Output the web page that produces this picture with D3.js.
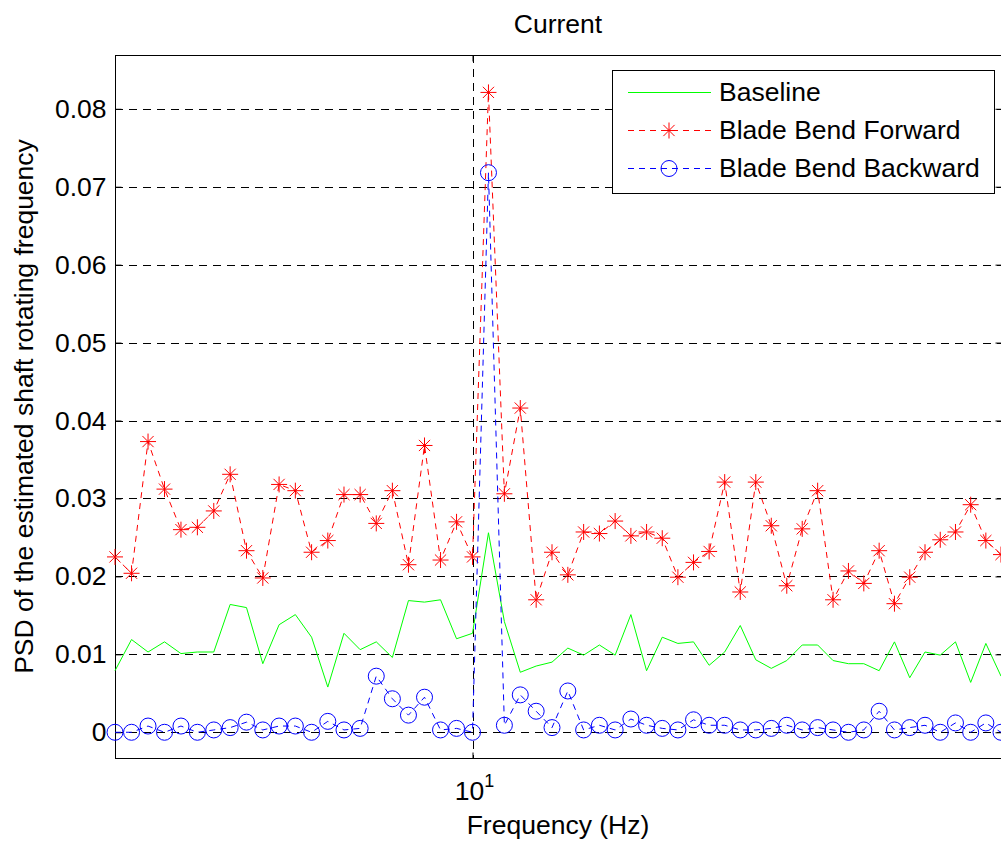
<!DOCTYPE html>
<html>
<head>
<meta charset="utf-8">
<script src="https://cdn.jsdelivr.net/npm/d3@7"></script>
<style>
  html, body { margin: 0; padding: 0; background: #fff; }
  svg { display: block; }
  text { font-family: "Liberation Sans", Arial, Helvetica, sans-serif; fill: #000; }
</style>
</head>
<body>
<svg id="chart" width="1001" height="841"></svg>
<script>
// ─── Data ─────────────────────────────────────────

// frequency bins (Hz), one per point of every series
const freqs = [
  9.648, 9.664, 9.680, 9.696, 9.712, 9.728, 9.744, 9.760, 9.776, 9.792,
  9.808, 9.824, 9.840, 9.856, 9.872, 9.888, 9.904, 9.920, 9.936, 9.952,
  9.968, 9.984, 10.000, 10.016, 10.032, 10.048, 10.064, 10.080, 10.096, 10.112,
  10.128, 10.144, 10.160, 10.176, 10.192, 10.208, 10.224, 10.240, 10.256, 10.272,
  10.288, 10.304, 10.320, 10.336, 10.352, 10.368, 10.384, 10.400, 10.416, 10.432,
  10.448, 10.464, 10.480, 10.496, 10.512, 10.528, 10.544
];

const baseline = [
  0.0079, 0.0119, 0.0103, 0.0116, 0.0101, 0.0103, 0.0103, 0.0164, 0.0160, 0.0088,
  0.0138, 0.0151, 0.0122, 0.0058, 0.0127, 0.0106, 0.0116, 0.0096, 0.0169, 0.0167,
  0.0170, 0.0120, 0.0127, 0.0256, 0.0142, 0.0077, 0.0085, 0.0090, 0.0108, 0.0099,
  0.0112, 0.0099, 0.0151, 0.0079, 0.0122, 0.0114, 0.0116, 0.0086, 0.0103, 0.0137,
  0.0093, 0.0082, 0.0092, 0.0112, 0.0112, 0.0092, 0.0088, 0.0088, 0.0079, 0.0116,
  0.0070, 0.0103, 0.0099, 0.0116, 0.0064, 0.0114, 0.0072
];

const bendForward = [
  0.0225, 0.0204, 0.0373, 0.0312, 0.0260, 0.0263, 0.0284, 0.0331, 0.0233, 0.0198,
  0.0318, 0.0310, 0.0231, 0.0246, 0.0305, 0.0305, 0.0268, 0.0310, 0.0215, 0.0368,
  0.0221, 0.0270, 0.0225, 0.0821, 0.0306, 0.0416, 0.0170, 0.0231, 0.0202, 0.0257,
  0.0255, 0.0271, 0.0252, 0.0257, 0.0249, 0.0199, 0.0218, 0.0232, 0.0321, 0.0180,
  0.0321, 0.0265, 0.0188, 0.0261, 0.0310, 0.0170, 0.0207, 0.0191, 0.0233, 0.0165,
  0.0199, 0.0231, 0.0247, 0.0257, 0.0292, 0.0246, 0.0228
];

const bendBackward = [
  0.0000, 0.0000, 0.0008, 0.0000, 0.0008, 0.0000, 0.0003, 0.0006, 0.0013, 0.0003,
  0.0008, 0.0008, 0.0000, 0.0014, 0.0003, 0.0005, 0.0072, 0.0043, 0.0022, 0.0045,
  0.0003, 0.0005, 0.0000, 0.0718, 0.0009, 0.0048, 0.0027, 0.0006, 0.0053, 0.0003,
  0.0009, 0.0003, 0.0017, 0.0009, 0.0005, 0.0003, 0.0016, 0.0009, 0.0009, 0.0003,
  0.0003, 0.0005, 0.0009, 0.0003, 0.0006, 0.0003, 0.0000, 0.0003, 0.0027, 0.0003,
  0.0006, 0.0009, 0.0000, 0.0012, 0.0000, 0.0012, 0.0000
];

const seriesNames = ['Baseline', 'Blade Bend Forward', 'Blade Bend Backward'];
const yTicks = [0, 0.01, 0.02, 0.03, 0.04, 0.05, 0.06, 0.07, 0.08];
const xTicks = [10];

// ─── Layout ───────────────────────────────────────

const W = 1001, H = 841;
const box = { left: 115, top: 55, right: 1001, bottom: 758 };
const FONT = '26.5px';

const svg = d3.select('#chart');

const x = d3.scaleLog()
  .domain([freqs[0], freqs[freqs.length - 1]])
  .range([box.left, box.right]);

const y = d3.scaleLinear()
  .domain([-0.0033, 0.0869])
  .range([box.bottom, box.top]);

const series = [
  { name: seriesNames[0], values: baseline, color: '#00ff00', dash: null, marker: null },
  { name: seriesNames[1], values: bendForward, color: '#ff0000', dash: '6,5', marker: 'star' },
  { name: seriesNames[2], values: bendBackward, color: '#0000ff', dash: '6,5', marker: 'circle' }
];

// ─── Gridlines ────────────────────────────────────

const grid = svg.append('g').attr('class', 'gridlines')
  .attr('stroke', '#000')
  .attr('stroke-width', 1)
  .attr('stroke-dasharray', '8,6');

yTicks.forEach(function (v) {
  const yy = Math.round(y(v)) + 0.5;
  grid.append('line')
    .attr('x1', box.left).attr('x2', box.right)
    .attr('y1', yy).attr('y2', yy);
});

xTicks.forEach(function (v) {
  const xx = Math.round(x(v)) + 0.5;
  grid.append('line')
    .attr('x1', xx).attr('x2', xx)
    .attr('y1', box.top).attr('y2', box.bottom);
});

// ─── Axes (ticks point inward, box all round) ─────

function styleAxis(g) {
  g.select('.domain').remove();
  g.selectAll('.tick line').attr('stroke', '#000');
  g.selectAll('.tick text')
    .style('font-family', '"Liberation Sans", Arial, sans-serif')
    .style('font-size', FONT)
    .attr('fill', '#000');
}

svg.append('g')
  .attr('transform', 'translate(' + (box.left + 0.5) + ',0)')
  .call(d3.axisLeft(y).tickValues(yTicks).tickSizeInner(-6).tickSizeOuter(0)
    .tickPadding(9).tickFormat(function (d) { return d === 0 ? '0' : d3.format('.2f')(d); }))
  .call(styleAxis);

svg.append('g')
  .attr('transform', 'translate(' + (box.right + 0.5) + ',0)')
  .call(d3.axisRight(y).tickValues(yTicks).tickSizeInner(-6).tickSizeOuter(0).tickFormat(''))
  .call(styleAxis);

svg.append('g')
  .attr('transform', 'translate(0,' + (box.bottom + 0.5) + ')')
  .call(d3.axisBottom(x).tickValues(xTicks).tickSizeInner(-6).tickSizeOuter(0).tickFormat(''))
  .call(styleAxis);

svg.append('g')
  .attr('transform', 'translate(0,' + (box.top + 0.5) + ')')
  .call(d3.axisTop(x).tickValues(xTicks).tickSizeInner(-6).tickSizeOuter(0).tickFormat(''))
  .call(styleAxis);

svg.append('rect')
  .attr('x', box.left + 0.5).attr('y', box.top + 0.5)
  .attr('width', box.right - box.left).attr('height', box.bottom - box.top)
  .attr('fill', 'none').attr('stroke', '#000').attr('stroke-width', 1);

// x tick labels as 10^k
xTicks.forEach(function (v) {
  const t = svg.append('text')
    .attr('x', x(v) + 2)
    .attr('y', 800)
    .attr('text-anchor', 'middle')
    .style('font-size', FONT);
  t.append('tspan').text('10');
  t.append('tspan').attr('dy', -13).style('font-size', '18px').text(Math.round(Math.log10(v)));
});

// ─── Series ───────────────────────────────────────

function starPath(r) {
  const d = r * 0.7;
  return 'M' + (-r) + ',0L' + r + ',0M0,' + (-r) + 'L0,' + r +
    'M' + (-d) + ',' + (-d) + 'L' + d + ',' + d +
    'M' + (-d) + ',' + d + 'L' + d + ',' + (-d);
}

function drawMarker(g, type, cx, cy, color) {
  if (type === 'star') {
    g.append('path')
      .attr('d', starPath(8))
      .attr('transform', 'translate(' + cx + ',' + cy + ')')
      .attr('fill', 'none').attr('stroke', color).attr('stroke-width', 1);
  } else if (type === 'circle') {
    g.append('circle')
      .attr('cx', cx).attr('cy', cy).attr('r', 8)
      .attr('fill', 'none').attr('stroke', color).attr('stroke-width', 1);
  }
}

const line = d3.line()
  .x(function (d) { return x(d[0]); })
  .y(function (d) { return y(d[1]); });

series.forEach(function (s) {
  const pts = freqs.map(function (f, i) { return [f, s.values[i]]; });
  const g = svg.append('g').attr('class', 'series');
  g.append('path')
    .attr('d', line(pts))
    .attr('fill', 'none')
    .attr('stroke', s.color)
    .attr('stroke-width', 1)
    .attr('stroke-dasharray', s.dash);
  if (s.marker) {
    pts.forEach(function (p) {
      drawMarker(g, s.marker, x(p[0]), y(p[1]), s.color);
    });
  }
});

// ─── Legend ───────────────────────────────────────

const legend = svg.append('g').attr('class', 'legend');
legend.append('rect')
  .attr('x', 612.5).attr('y', 70.5)
  .attr('width', 382).attr('height', 123)
  .attr('fill', '#fff').attr('stroke', '#000').attr('stroke-width', 1);

series.forEach(function (s, i) {
  const ly = 92 + i * 38;
  legend.append('line')
    .attr('x1', 628).attr('x2', 711)
    .attr('y1', ly + 0.5).attr('y2', ly + 0.5)
    .attr('stroke', s.color).attr('stroke-width', 1)
    .attr('stroke-dasharray', s.dash);
  if (s.marker) drawMarker(legend, s.marker, 669, ly + 0.5, s.color);
  legend.append('text')
    .attr('x', 719).attr('y', ly)
    .attr('dy', '0.35em')
    .style('font-size', FONT)
    .text(s.name);
});

// ─── Titles ───────────────────────────────────────

svg.append('text')
  .attr('x', (box.left + box.right) / 2).attr('y', 33)
  .attr('text-anchor', 'middle')
  .style('font-size', FONT)
  .text('Current');

svg.append('text')
  .attr('x', (box.left + box.right) / 2).attr('y', 834)
  .attr('text-anchor', 'middle')
  .style('font-size', FONT)
  .text('Frequency (Hz)');

svg.append('text')
  .attr('transform', 'translate(33,' + ((box.top + box.bottom) / 2) + ') rotate(-90)')
  .attr('text-anchor', 'middle')
  .style('font-size', FONT)
  .text('PSD of the estimated shaft rotating frequency');
</script>
</body>
</html>
